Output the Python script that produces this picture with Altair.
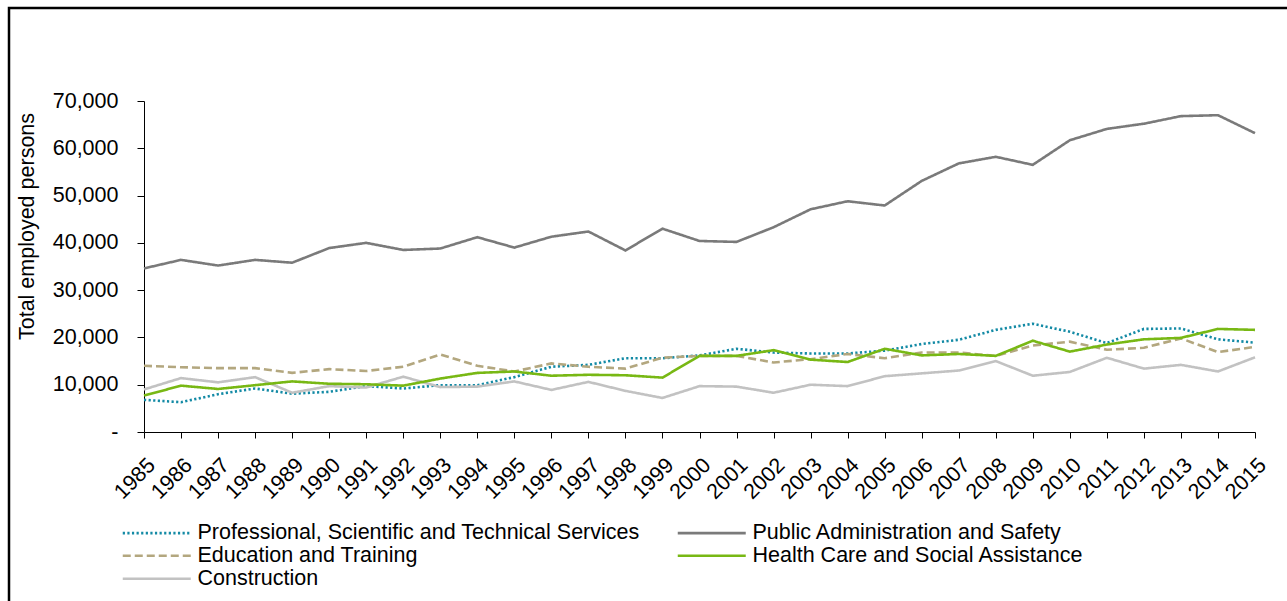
import altair as alt
import pandas as pd

years = list(range(1985, 2016))

# order chosen so the 2-column legend reads row by row like the reference
series_names = [
    "Professional, Scientific and Technical Services",
    "Education and Training",
    "Construction",
    "Public Administration and Safety",
    "Health Care and Social Assistance",
]

professional = [6800, 6300, 8000, 9200, 8100, 8500, 9700, 9200, 9900, 9900, 11600,
                13800, 14200, 15600, 15600, 16200, 17600, 16800, 16600, 16600, 17200,
                18600, 19500, 21600, 22900, 21200, 18800, 21800, 21900, 19600, 18900]
education = [14000, 13700, 13500, 13500, 12500, 13300, 12900, 13800, 16400, 14000, 12800,
             14500, 13800, 13400, 15700, 16100, 16100, 14700, 15400, 16500, 15600,
             16800, 16800, 16100, 18300, 19100, 17400, 17800, 19800, 16900, 18000]
construction = [9000, 11400, 10500, 11600, 8300, 9700, 9400, 11700, 9500, 9600, 10700,
                8900, 10600, 8700, 7200, 9700, 9600, 8300, 10000, 9700, 11800,
                12400, 13000, 15000, 11900, 12700, 15700, 13400, 14200, 12800, 15800]
public_admin = [34600, 36400, 35200, 36400, 35800, 38900, 40000, 38500, 38800, 41200, 39000,
                41300, 42400, 38400, 43000, 40400, 40200, 43300, 47100, 48800, 47900,
                53100, 56800, 58200, 56500, 61700, 64100, 65200, 66800, 67000, 63200]
health = [7700, 9800, 9100, 9900, 10700, 10200, 10100, 9800, 11300, 12500, 12800,
          11900, 12100, 12000, 11500, 16100, 16100, 17300, 15300, 14800, 17600,
          16200, 16500, 16100, 19300, 17000, 18500, 19600, 19900, 21800, 21600]

colors = ["#138aa5", "#b3a77f", "#c2c2c2", "#7a7a7a", "#78b814"]
dashes = [[2.2, 2.4], [8, 4], [1, 0], [1, 0], [1, 0]]
y_ticks = list(range(0, 70001, 10000))

all_values = [professional, education, construction, public_admin, health]
rows = []
for name, vals in zip(series_names, all_values):
    for yr, v in zip(years, vals):
        rows.append({"Year": yr, "Series": name, "Value": v})
df = pd.DataFrame(rows)

FONT = "Liberation Sans"
FS = 21.5


def make_legend():
    return alt.Legend(title=None, orient="none", legendX=2, legendY=421,
                      columns=2, columnPadding=32, rowPadding=0,
                      symbolType="M-4,0H4", symbolSize=289,
                      symbolStrokeWidth=2.6, symbolFillColor="transparent",
                      labelOffset=30, labelFontSize=FS, labelFont=FONT,
                      labelColor="#000000", labelLimit=0)


lines = alt.Chart(df).mark_line(strokeWidth=2.6).encode(
    x=alt.X("Year:Q",
            scale=alt.Scale(domain=[1985, 2015], nice=False, zero=False),
            axis=alt.Axis(values=years, format="d", title=None, labelAngle=-45,
                          labelFontSize=FS, tickSize=6, labelPadding=16,
                          labelOverlap=False, labelBound=False,
                          grid=False, domainColor="#000000", tickColor="#000000",
                          labelColor="#000000", labelFont=FONT)),
    y=alt.Y("Value:Q",
            scale=alt.Scale(domain=[0, 70000], nice=False),
            axis=alt.Axis(values=y_ticks, title="Total employed persons",
                          labelExpr="datum.value == 0 ? '-\u00a0\u00a0' : format(datum.value, ',')",
                          labelFontSize=FS, tickSize=7, labelPadding=19,
                          labelOverlap=False,
                          grid=False, domainColor="#000000", tickColor="#000000",
                          labelColor="#000000", labelFont=FONT,
                          titleFont=FONT, titleFontSize=FS, titleFontWeight="normal",
                          titleColor="#000000", titleX=-106, titleY=125)),
    color=alt.Color("Series:N",
                    scale=alt.Scale(domain=series_names, range=colors),
                    legend=make_legend()),
    strokeDash=alt.StrokeDash("Series:N",
                              scale=alt.Scale(domain=series_names, range=dashes),
                              legend=make_legend()),
    detail="Series:N",
)

frame = alt.Chart(pd.DataFrame({"k": [0]})).mark_rect(
    fill=None, stroke="#000000", strokeWidth=2.5
).encode(
    x=alt.value(-135), x2=alt.value(1160), y=alt.value(-93), y2=alt.value(700)
)

chart = alt.layer(lines, frame).properties(
    width=1111, height=331,
    autosize=alt.AutoSizeParams(type="none"),
    padding={"left": 144, "top": 101, "right": 32, "bottom": 169},
    background="#ffffff",
).configure_view(stroke=None)

chart.save("out.html", embed_options={"renderer": "svg", "actions": False})
